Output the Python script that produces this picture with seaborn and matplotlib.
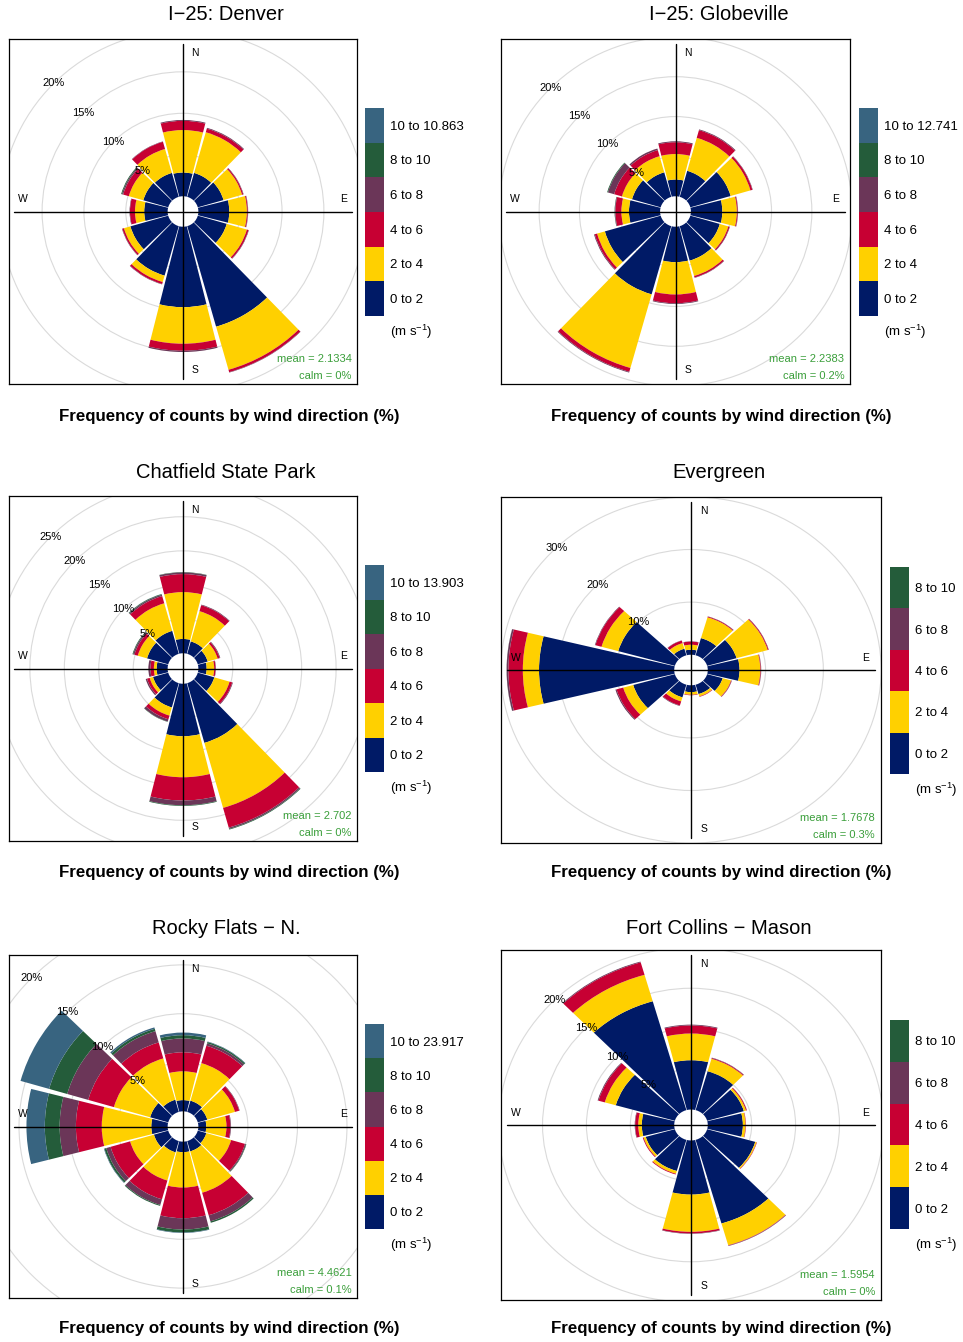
import numpy as np
import matplotlib
matplotlib.use("Agg")
import matplotlib as mpl
import matplotlib.pyplot as plt
from matplotlib.patches import Wedge, Circle
from matplotlib.colors import ListedColormap, BoundaryNorm
import seaborn as sns

# wind sectors (deg clockwise from north), one bar every 30 deg
directions = [30, 60, 90, 120, 150, 180, 210, 240, 270, 300, 330, 360]
speed_bins = ["0 to 2", "2 to 4", "4 to 6", "6 to 8", "8 to 10"]
speed_cols = ["#001A66", "#FFD000", "#C70033", "#6B3658", "#245C3A", "#386480"]

# frequency of counts (%) : rows = speed bins, columns = directions
denver = [
    [3.0, 3.2, 3.7, 3.6, 12.6, 9.7, 6.2, 4.7, 2.8, 3.1, 3.0, 2.86],
    [5.1, 2.3, 2.1, 2.5, 5.4, 4.4, 0.8, 0.8, 1.1, 1.8, 3.0, 5.12],
    [0.45, 0.15, 0.1, 0.2, 0.3, 0.85, 0.25, 0.2, 0.6, 0.7, 0.9, 1.11],
    [0.1, 0.05, 0.05, 0.05, 0.05, 0.15, 0.05, 0.05, 0.05, 0.15, 0.05, 0.11],
    [0, 0, 0, 0, 0, 0, 0, 0, 0, 0.1, 0, 0],
    [0, 0, 0, 0, 0, 0, 0, 0, 0, 0, 0, 0],
]
globeville = [
    [3.4, 5.2, 3.9, 3.8, 4.5, 4.45, 8.9, 7.2, 3.86, 3.7, 3.2, 2.1],
    [4.3, 2.55, 1.8, 1.1, 2.0, 4.05, 9.6, 1.0, 0.94, 1.3, 2.1, 3.2],
    [1.0, 0.25, 0.1, 0.15, 0.2, 1.1, 0.5, 0.3, 0.75, 1.0, 0.8, 1.48],
    [0.1, 0.05, 0.05, 0.05, 0.05, 0.1, 0.1, 0.1, 0.07, 0.8, 0.2, 0.12],
    [0, 0, 0, 0, 0, 0, 0, 0, 0.03, 0.1, 0, 0],
    [0, 0, 0, 0, 0, 0, 0, 0, 0, 0, 0, 0],
]
chatfield = [
    [1.9, 1.5, 1.2, 2.5, 9.1, 7.7, 3.7, 2.3, 1.6, 3.2, 3.5, 2.1],
    [4.6, 1.5, 1.1, 2.3, 9.9, 6.0, 1.25, 0.5, 0.4, 1.4, 4.2, 6.86],
    [0.9, 0.3, 0.2, 0.4, 3.0, 3.4, 0.55, 0.4, 0.5, 0.5, 1.1, 2.64],
    [0.1, 0.1, 0.05, 0.1, 0.2, 0.7, 0.35, 0.2, 0.3, 0.2, 0.2, 0.25],
    [0, 0, 0, 0, 0.1, 0.1, 0.05, 0, 0, 0.1, 0.1, 0.05],
    [0, 0, 0, 0, 0, 0, 0, 0, 0, 0, 0.02, 0],
]
evergreen = [
    [3.4, 5.3, 5.5, 2.8, 1.85, 1.3, 2.5, 7.5, 23.4, 10.2, 1.3, 0.95],
    [4.1, 5.6, 3.6, 1.5, 0.45, 0.5, 0.8, 1.8, 2.8, 3.0, 1.1, 0.95],
    [0.15, 0.15, 0.1, 0.1, 0.1, 0.1, 0.8, 1.2, 2.5, 1.1, 0.5, 0.6],
    [0.05, 0.05, 0.05, 0.05, 0, 0, 0.1, 0.2, 0.3, 0.1, 0.05, 0.05],
    [0, 0, 0, 0, 0, 0, 0, 0, 0.02, 0, 0, 0],
]
rocky_flats = [
    [1.2, 1.0, 0.8, 0.9, 1.1, 1.08, 1.2, 1.5, 1.65, 1.9, 1.3, 1.15],
    [4.0, 2.9, 2.04, 2.6, 4.4, 3.62, 3.0, 2.5, 5.0, 3.8, 4.4, 2.95],
    [1.85, 0.45, 0.4, 1.45, 2.4, 3.14, 2.0, 2.05, 2.61, 2.7, 1.7, 1.95],
    [0.25, 0.05, 0.06, 0.1, 0.65, 1.16, 0.6, 0.45, 1.64, 2.2, 1.2, 1.42],
    [0.15, 0, 0, 0.05, 0.15, 0.3, 0.1, 0.2, 1.5, 1.9, 0.25, 0.33],
    [0.05, 0, 0, 0, 0, 0.05, 0, 0.05, 1.85, 3.0, 0.15, 0.27],
]
fort_collins = [
    [5.0, 4.35, 4.0, 5.7, 10.75, 6.7, 4.0, 3.45, 3.7, 7.0, 14.0, 6.1],
    [1.6, 0.25, 0.3, 0.15, 2.8, 4.6, 0.35, 0.25, 0.4, 1.3, 3.4, 3.3],
    [0.1, 0.1, 0.05, 0.05, 0.05, 0.2, 0.1, 0.1, 0.35, 0.75, 1.6, 1.0],
    [0.05, 0.02, 0, 0, 0.05, 0.05, 0, 0, 0.05, 0.1, 0.1, 0.1],
    [0, 0, 0, 0, 0, 0, 0, 0, 0, 0, 0, 0],
]

titles = ["I\u221225: Denver", "I\u221225: Globeville", "Chatfield State Park",
          "Evergreen", "Rocky Flats \u2212 N.", "Fort Collins \u2212 Mason"]
site_data = [denver, globeville, chatfield, evergreen, rocky_flats, fort_collins]
max_speed = ["10.863", "12.741", "13.903", None, "23.917", None]
means = ["2.1334", "2.2383", "2.702", "1.7678", "4.4621", "1.5954"]
calms = ["0%", "0.2%", "0%", "0.3%", "0.1%", "0%"]
grid_step = [5, 5, 5, 10, 5, 5]

# layout in pixels (left, top, right, bottom)
W, H = 963, 1342
rose_boxes = [(9, 39, 357, 384), (501, 39, 850, 384), (9, 496, 357, 841),
              (501, 497, 881, 843), (9, 955, 357, 1298), (501, 950, 881, 1300)]
key_boxes = [(365, 108, 384, 316), (859, 108, 878, 316), (365, 565, 384, 772),
             (890, 567, 909, 774), (365, 1024, 384, 1229), (890, 1020, 909, 1229)]
title_y = [15, 15, 472, 472, 928, 928]
xlab_y = [416, 416, 873, 873, 1329, 1329]
col_x = [226, 719]
xlab_x = [229, 721.5]

sns.set_theme(style="white")
plt.rcParams["font.family"] = ["Liberation Sans", "DejaVu Sans"]
plt.rcParams["mathtext.fontset"] = "custom"
plt.rcParams["mathtext.rm"] = "Liberation Sans"
plt.rcParams["mathtext.it"] = "Liberation Sans:italic"
for key in ["text.color", "axes.labelcolor", "xtick.color", "ytick.color"]:
    plt.rcParams[key] = "black"

fig = plt.figure(figsize=(W / 100, H / 100), dpi=100)


def px_axes(l, t, r, b):
    return fig.add_axes([l / W, 1 - b / H, (r - l) / W, (b - t) / H])


def wind_rose(ax, freqs, by, mean, calm):
    freqs = np.array(freqs)
    cum = np.cumsum(freqs, axis=0)
    max_freq = cum[-1].max()
    off = 0.1 * max_freq
    lim = 1.03 * (max_freq + off)
    ax.set_xlim(-lim, lim)
    ax.set_ylim(-lim, lim)
    ax.set_xticks([])
    ax.set_yticks([])
    for s in ax.spines.values():
        s.set_visible(True)
        s.set_color("black")
        s.set_linewidth(0.9)

    s45 = np.sin(np.pi / 4)
    n_grid = int(np.ceil(max_freq / by - 1e-9))
    for k in range(1, n_grid + 1):
        r = off + k * by
        ax.add_patch(Circle((0, 0), r, fill=False, ec="#dadada", lw=0.8, zorder=1))
        ax.text(-r * s45, r * s45, f"{k * by}%", ha="center", va="center",
                fontsize=8, zorder=6, clip_on=True)

    hw = 14.1
    for j, d in enumerate(directions):
        for i in range(freqs.shape[0]):
            inner = off + (cum[i - 1, j] if i > 0 else 0)
            outer = off + cum[i, j]
            if outer - inner <= 0:
                continue
            ax.add_patch(Wedge((0, 0), outer, 90 - d - hw, 90 - d + hw,
                               width=outer - inner, fc=speed_cols[i], ec="none", zorder=2))

    ext = max_freq + off
    ax.plot([0, 0], [-ext, ext], color="black", lw=1, zorder=4)
    ax.plot([-ext, ext], [0, 0], color="black", lw=1, zorder=4)
    a, b = 0.92 * lim, 0.07 * lim
    for lab, x, y in [("N", b, a), ("S", b, -a), ("W", -a, b), ("E", a, b)]:
        ax.text(x, y, lab, ha="center", va="center", fontsize=7.5, zorder=6)

    green = "#3a9e3a"
    ax.text(0.984, 0.072, f"mean = {mean}", transform=ax.transAxes, ha="right",
            va="center", fontsize=8, color=green)
    ax.text(0.984, 0.024, f"calm = {calm}", transform=ax.transAxes, ha="right",
            va="center", fontsize=8, color=green)


for p in range(6):
    data = site_data[p]
    ax = px_axes(*rose_boxes[p])
    wind_rose(ax, data, grid_step[p], means[p], calms[p])

    labels = speed_bins[:len(data)]
    if max_speed[p] is not None:
        labels = labels + [f"10 to {max_speed[p]}"]
    n = len(labels)
    cax = px_axes(*key_boxes[p])
    cmap = ListedColormap(speed_cols[:n])
    norm = BoundaryNorm(np.arange(n + 1), n)
    cb = fig.colorbar(mpl.cm.ScalarMappable(norm=norm, cmap=cmap), cax=cax,
                      ticks=np.arange(n) + 0.5)
    cb.set_ticklabels(labels)
    cb.outline.set_visible(False)
    cb.minorticks_off()
    cax.tick_params(which="both", length=0, pad=4.5, labelsize=9.5)
    kl, kt, kr, kb = key_boxes[p]
    fig.text((kr + 6) / W, 1 - (kb + 16) / H, "(m s$^{-1}$)", ha="left",
             va="center", fontsize=9.5)

    c = p % 2
    fig.text(col_x[c] / W, 1 - title_y[p] / H, titles[p], ha="center",
             va="center", fontsize=14.5)
    fig.text(xlab_x[c] / W, 1 - xlab_y[p] / H,
             "Frequency of counts by wind direction (%)", ha="center",
             va="center", fontsize=12.2, fontweight="bold")

fig.savefig("out.png", dpi=100)
